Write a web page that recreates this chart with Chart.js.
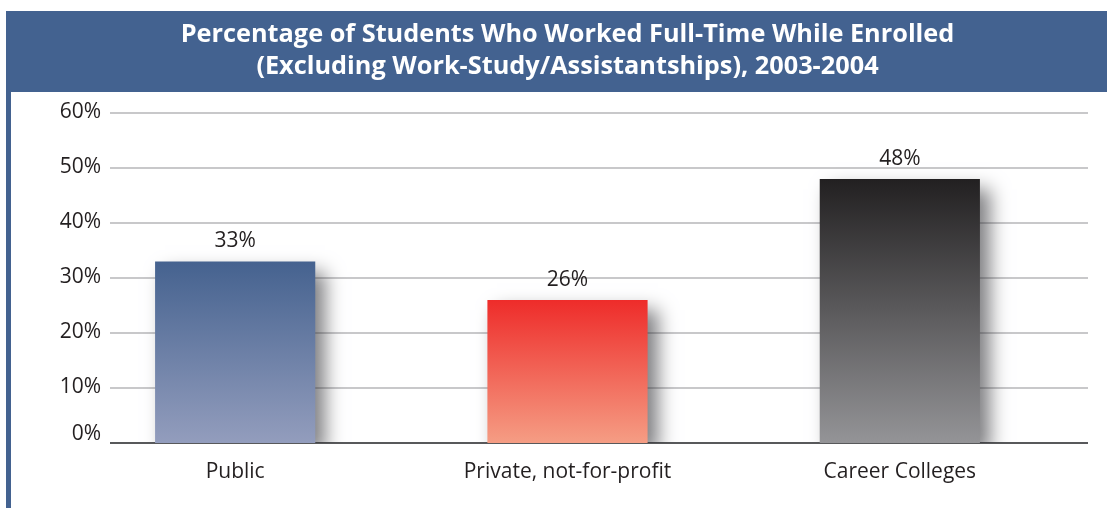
<!DOCTYPE html>
<html>
<head>
<meta charset="utf-8">
<script src="https://cdn.jsdelivr.net/npm/chart.js@4/dist/chart.umd.min.js"></script>
<style>
    body { margin: 0; background: #fff; }
    #wrap { position: relative; width: 1107px; height: 508px; }
</style>
</head>
<body>
<div id="wrap"><canvas id="chart"></canvas></div>
<script>
// ==================== DATA ====================
const categories = ['Public', 'Private, not-for-profit', 'Career Colleges'];
const percentValues = [33, 26, 48];
const yTicks = [0, 10, 20, 30, 40, 50, 60];
const titleLines = [
    'Percentage of Students Who Worked Full-Time While Enrolled',
    '(Excluding Work-Study/Assistantships), 2003-2004'
];

// ==================== STYLE ====================
const BANNER = '#436290';
const TEXT = '#231f20';
const FONT = '"Open Sans", "Noto Sans", sans-serif';
const gradients = [
    ['#45628f', '#939dbd'],
    ['#ee2c2a', '#f59d84'],
    ['#222021', '#949497']
];

// backdrop, banner, gridlines and y tick labels
const backdrop = {
    id: 'backdrop',
    beforeDraw(chart) {
        const ctx = chart.ctx;
        const y = chart.scales.y;
        ctx.save();
        ctx.fillStyle = '#fff';
        ctx.fillRect(0, 0, chart.width, chart.height);
        ctx.fillStyle = BANNER;
        ctx.fillRect(6, 11, chart.width - 6, 81);
        ctx.fillRect(6, 92, 5, chart.height - 92);

        ctx.font = '21px ' + FONT;
        ctx.textAlign = 'right';
        ctx.textBaseline = 'middle';
        yTicks.forEach(v => {
            const py = Math.round(y.getPixelForValue(v));
            ctx.strokeStyle = v === 0 ? '#58595b' : '#c8c8ca';
            ctx.lineWidth = 2;
            ctx.beginPath();
            ctx.moveTo(110, py);
            ctx.lineTo(1088, py);
            ctx.stroke();
            ctx.fillStyle = TEXT;
            ctx.fillText(v + '%', 101, py - (v === 0 ? 9 : 1));
        });
        ctx.restore();
    }
};

// soft drop shadow under the bars
const barShadow = {
    id: 'barShadow',
    beforeDatasetsDraw(chart) {
        const ctx = chart.ctx;
        ctx.save();
        ctx.shadowColor = 'rgba(40, 40, 45, 0.6)';
        ctx.shadowBlur = 18;
        ctx.shadowOffsetX = 10;
        ctx.shadowOffsetY = 10;
    },
    afterDatasetsDraw(chart) {
        chart.ctx.restore();
    }
};

// value labels above bars
const valueLabels = {
    id: 'valueLabels',
    afterDatasetsDraw(chart) {
        const ctx = chart.ctx;
        const meta = chart.getDatasetMeta(0);
        ctx.save();
        ctx.font = '21px ' + FONT;
        ctx.fillStyle = TEXT;
        ctx.textAlign = 'center';
        ctx.textBaseline = 'middle';
        meta.data.forEach((bar, i) => {
            ctx.fillText(percentValues[i] + '%', bar.x, bar.y - 20);
        });
        ctx.restore();
    }
};

function barFill(context) {
    const chart = context.chart;
    const colors = gradients[context.dataIndex] || gradients[0];
    if (!chart.chartArea) return colors[0];
    const y = chart.scales.y;
    const top = y.getPixelForValue(context.raw);
    const bottom = y.getPixelForValue(0);
    const g = chart.ctx.createLinearGradient(0, top, 0, bottom);
    g.addColorStop(0, colors[0]);
    g.addColorStop(1, colors[1]);
    return g;
}

// ==================== CHART ====================
const chart = new Chart(document.getElementById('chart'), {
    type: 'bar',
    data: {
        labels: categories,
        datasets: [{
            data: percentValues,
            backgroundColor: barFill,
            borderWidth: 0,
            categoryPercentage: 1,
            barPercentage: 0.482
        }]
    },
    options: {
        responsive: true,
        maintainAspectRatio: false,
        animation: false,
        layout: {
            padding: { left: 69, right: 41, top: 0, bottom: 7 }
        },
        plugins: {
            legend: { display: false },
            tooltip: { enabled: false },
            title: {
                display: true,
                text: titleLines,
                color: '#fff',
                font: { family: FONT, size: 25.3, weight: 'bold', lineHeight: 1.265 },
                padding: { top: 19, bottom: 30 }
            }
        },
        scales: {
            x: {
                grid: { display: false, drawTicks: false },
                border: { display: false },
                ticks: {
                    color: TEXT,
                    font: { family: FONT, size: 21 },
                    padding: 16.4
                }
            },
            y: {
                display: false,
                min: 0,
                max: 60,
                ticks: { stepSize: 10 }
            }
        }
    },
    plugins: [backdrop, barShadow, valueLabels]
});
</script>
</body>
</html>
